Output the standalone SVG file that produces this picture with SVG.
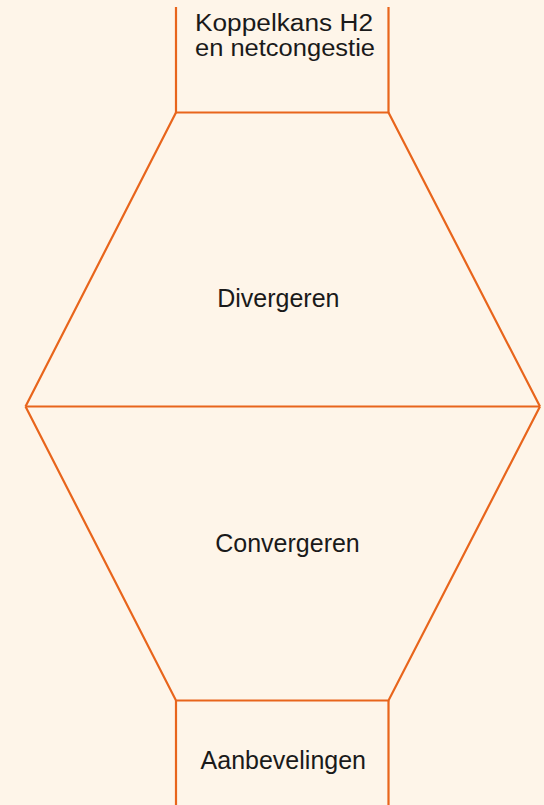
<svg xmlns="http://www.w3.org/2000/svg" width="544" height="805" viewBox="0 0 544 805">
<style>
.ln{fill:none;stroke:#E8651C;stroke-width:2.2;stroke-linejoin:miter}
.t{font-family:"Liberation Sans",Arial,sans-serif;fill:#1a1a1a;text-anchor:middle}
</style>
<rect width="544" height="805" fill="#FEF5E9"/>
<g id="connectors">
<path class="ln" d="M25.5,406.5 H540"/>
</g>
<g id="koppelkans">
<path class="ln" d="M176,7 V112.5 H388.5 V7"/>
<text class="t" x="284" y="31" font-size="23" textLength="178" lengthAdjust="spacingAndGlyphs">Koppelkans H2</text>
<text class="t" x="285" y="55.5" font-size="23" textLength="180" lengthAdjust="spacingAndGlyphs">en netcongestie</text>
</g>
<g id="divergeren">
<path class="ln" d="M176,112.5 L25.5,406.5 M388.5,112.5 L540,406.5"/>
<text class="t" x="278.3" y="306.5" font-size="25">Divergeren</text>
</g>
<g id="convergeren">
<path class="ln" d="M25.5,406.5 L176,700.5 H388.5 L540,406.5"/>
<text class="t" x="287.5" y="552" font-size="25">Convergeren</text>
</g>
<g id="aanbevelingen">
<path class="ln" d="M176,700.5 V805 M388.5,700.5 V805"/>
<text class="t" x="283.3" y="769" font-size="25">Aanbevelingen</text>
</g>
</svg>
